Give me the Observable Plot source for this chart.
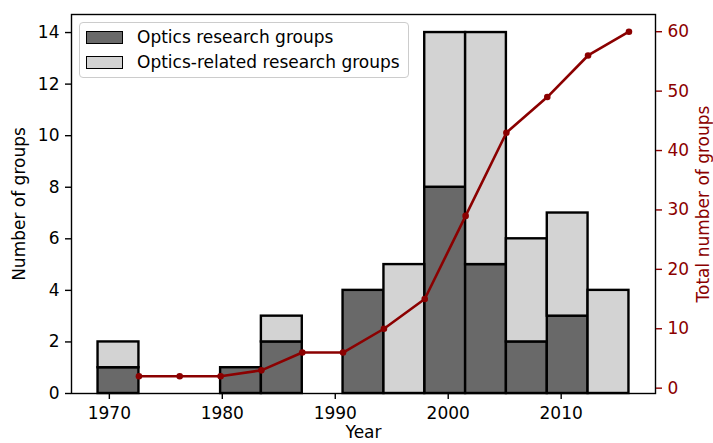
<!DOCTYPE html>
<html><head><meta charset="utf-8">
<script src="https://cdn.jsdelivr.net/npm/d3@7"></script>
<script src="https://cdn.jsdelivr.net/npm/@observablehq/plot@0.6"></script>
<style>
body{margin:0;background:#fff;}
#chart{position:relative;width:713px;height:443px;font-family:"DejaVu Sans",sans-serif;}
#chart svg{position:absolute;left:0;top:0;}
#legend{position:absolute;left:79px;top:22px;width:330px;height:56px;border:1px solid #cccccc;border-radius:4px;background:rgba(255,255,255,0.8);box-sizing:border-box;}
.sw{position:absolute;left:6px;width:37px;height:13px;border:1.6px solid #000;box-sizing:border-box;}
.lt{position:absolute;left:57px;font-size:17px;line-height:17px;white-space:nowrap;color:#000;}
</style></head><body><div id="chart"></div>
<script>
// Histogram bin edges (years)
const binEdges = [1969, 1972.62, 1976.23, 1979.85, 1983.46, 1987.08, 1990.69, 1994.31, 1997.92, 2001.54, 2005.15, 2008.77, 2012.38, 2016];
// Counts per bin
const opticsGroups = [1, 0, 0, 1, 2, 0, 4, 0, 8, 5, 2, 3, 0];
const relatedGroups = [1, 0, 0, 0, 1, 0, 0, 5, 6, 9, 4, 4, 4];
// Cumulative total number of groups (right axis), at bin right edges
const totalGroups = [2, 2, 2, 3, 6, 6, 10, 15, 29, 43, 49, 56, 60];
const yearTicks = [1970, 1980, 1990, 2000, 2010];
const leftTicks = [0, 2, 4, 6, 8, 10, 12, 14];
const rightTicks = [0, 10, 20, 30, 40, 50, 60];
const seriesNames = ["Optics research groups", "Optics-related research groups"];
const seriesColors = ["#696969", "#d3d3d3"];
const lineColor = "#8b0000";

const bins = opticsGroups.map((v, i) => ({x1: binEdges[i], x2: binEdges[i + 1], optics: v, total: v + relatedGroups[i]}));
const points = totalGroups.map((v, i) => ({x: binEdges[i + 1], y: v}));

const xDomain = [1966.65, 2018.35];
const common = {width: 713, height: 443, marginLeft: 71, marginRight: 58, marginTop: 14, marginBottom: 50};
const font = "'DejaVu Sans', sans-serif";

const p1 = Plot.plot({
  ...common,
  style: {fontFamily: font, fontSize: "17px", background: "transparent", color: "black"},
  x: {domain: xDomain},
  y: {domain: [0, 14.7]},
  marks: [
    Plot.rect(bins.filter(d => d.optics > 0), {x1: "x1", x2: "x2", y1: 0, y2: "optics", fill: seriesColors[0], stroke: "black", strokeWidth: 2.4}),
    Plot.rect(bins.filter(d => d.total > d.optics), {x1: "x1", x2: "x2", y1: "optics", y2: "total", fill: seriesColors[1], stroke: "black", strokeWidth: 2.4}),
    Plot.axisX({ticks: yearTicks, tickFormat: d => String(d), tickSize: 6, tickPadding: 7, strokeWidth: 1.4, label: null}),
    Plot.axisY({ticks: leftTicks, tickFormat: d => String(d), tickSize: 6, tickPadding: 6, strokeWidth: 1.4, label: null}),
    Plot.frame({stroke: "black", strokeWidth: 1.4}),
    Plot.text(["Year"], {frameAnchor: "bottom", dy: 39, lineAnchor: "middle", textAnchor: "middle", fontSize: 17, fill: "black"}),
    Plot.text(["Number of groups"], {frameAnchor: "left", dx: -52, rotate: -90, textAnchor: "middle", lineAnchor: "middle", fontSize: 17, fill: "black"})
  ]
});

const p2 = Plot.plot({
  ...common,
  style: {fontFamily: font, fontSize: "17px", background: "transparent", color: lineColor, overflow: "visible"},
  x: {domain: xDomain, axis: null},
  y: {domain: [-0.9, 62.9]},
  marks: [
    Plot.axisY({anchor: "right", ticks: rightTicks, tickFormat: d => String(d), tickSize: 6, tickPadding: 6, strokeWidth: 1.4, label: null}),
    Plot.line(points, {x: "x", y: "y", stroke: lineColor, strokeWidth: 2.6}),
    Plot.dot(points, {x: "x", y: "y", fill: lineColor, r: 3.3}),
    Plot.text(["Total number of groups"], {frameAnchor: "right", dx: 48, rotate: -90, textAnchor: "middle", lineAnchor: "middle", fontSize: 17, fill: lineColor})
  ]
});

const chart = document.getElementById("chart");
chart.appendChild(p1);
chart.appendChild(p2);

const legend = document.createElement("div");
legend.id = "legend";
seriesNames.forEach((name, i) => {
  const sw = document.createElement("div");
  sw.className = "sw";
  sw.style.top = (8 + i * 25) + "px";
  sw.style.background = seriesColors[i];
  legend.appendChild(sw);
  const t = document.createElement("div");
  t.className = "lt";
  t.style.top = (5.5 + i * 25) + "px";
  t.textContent = name;
  legend.appendChild(t);
});
chart.appendChild(legend);
</script></body></html>
